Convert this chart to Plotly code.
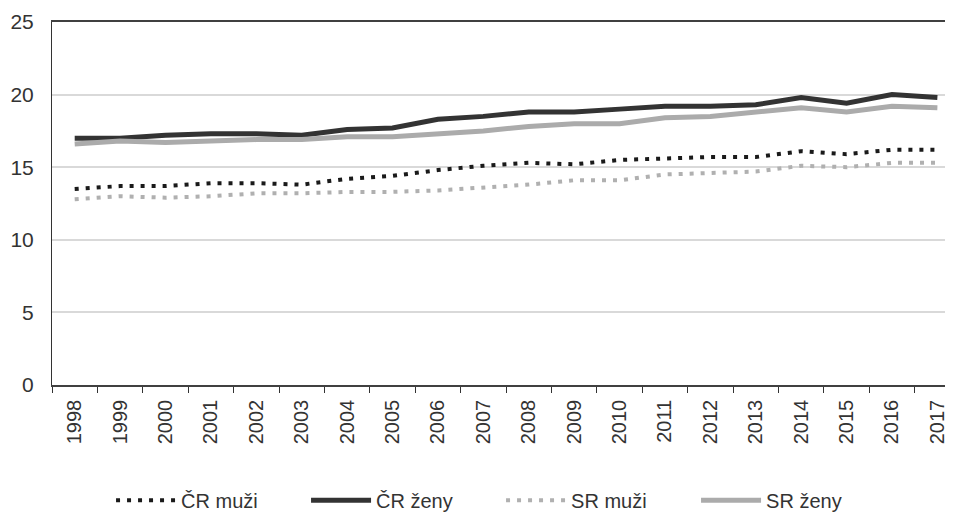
import plotly.graph_objects as go

years = [str(y) for y in range(1998, 2018)]
cr_muzi = [13.5, 13.7, 13.7, 13.9, 13.9, 13.8, 14.2, 14.4, 14.8, 15.1, 15.3, 15.2, 15.5, 15.6, 15.7, 15.7, 16.1, 15.9, 16.2, 16.2]
cr_zeny = [17.0, 17.0, 17.2, 17.3, 17.3, 17.2, 17.6, 17.7, 18.3, 18.5, 18.8, 18.8, 19.0, 19.2, 19.2, 19.3, 19.8, 19.4, 20.0, 19.8]
sr_muzi = [12.8, 13.0, 12.9, 13.0, 13.2, 13.2, 13.3, 13.3, 13.4, 13.6, 13.8, 14.1, 14.1, 14.5, 14.6, 14.7, 15.1, 15.0, 15.3, 15.3]
sr_zeny = [16.6, 16.8, 16.7, 16.8, 16.9, 16.9, 17.1, 17.1, 17.3, 17.5, 17.8, 18.0, 18.0, 18.4, 18.5, 18.8, 19.1, 18.8, 19.2, 19.1]

series = [
    ("ČR muži", cr_muzi, "#1a1a1a", "4px,7px", 4),
    ("ČR ženy", cr_zeny, "#333333", "solid", 5),
    ("SR muži", sr_muzi, "#b0b0b0", "4px,7px", 4),
    ("SR ženy", sr_zeny, "#ababab", "solid", 5),
]

fig = go.Figure()
for name, vals, color, dash, w in series:
    fig.add_trace(go.Scatter(x=years, y=vals, name=name, mode="lines",
                             line=dict(color=color, width=w, dash=dash)))

font = "Liberation Sans, Arial, sans-serif"
fig.update_layout(
    width=953, height=513,
    margin=dict(l=44, r=0, t=14, b=136, autoexpand=False),
    paper_bgcolor="white", plot_bgcolor="white",
    font=dict(family=font, size=20, color="#333333"),
    showlegend=True,
    legend=dict(orientation="h", x=0.494, xanchor="center",
                y=-0.264, yanchor="top", font=dict(size=20, color="#333333"),
                itemwidth=60, entrywidth=120, traceorder="normal"),
    xaxis=dict(type="category", range=[-0.5, 19.52], tickson="boundaries",
               ticks="outside", ticklen=6, tickcolor="#333333", tickwidth=1,
               tickangle=-90, showgrid=False, showline=True, linecolor="#404040",
               linewidth=1.5, mirror=True, tickfont=dict(size=20), nticks=40,
               ticklabelstandoff=5),
    yaxis=dict(range=[0, 25], dtick=5, showgrid=True, gridcolor="#d9d9d9",
               gridwidth=1.5, zeroline=False, showline=True, linecolor="#333333",
               linewidth=1, ticks="", ticklabelstandoff=13, tickfont=dict(size=21)),
)

fig.write_html("out.html")
